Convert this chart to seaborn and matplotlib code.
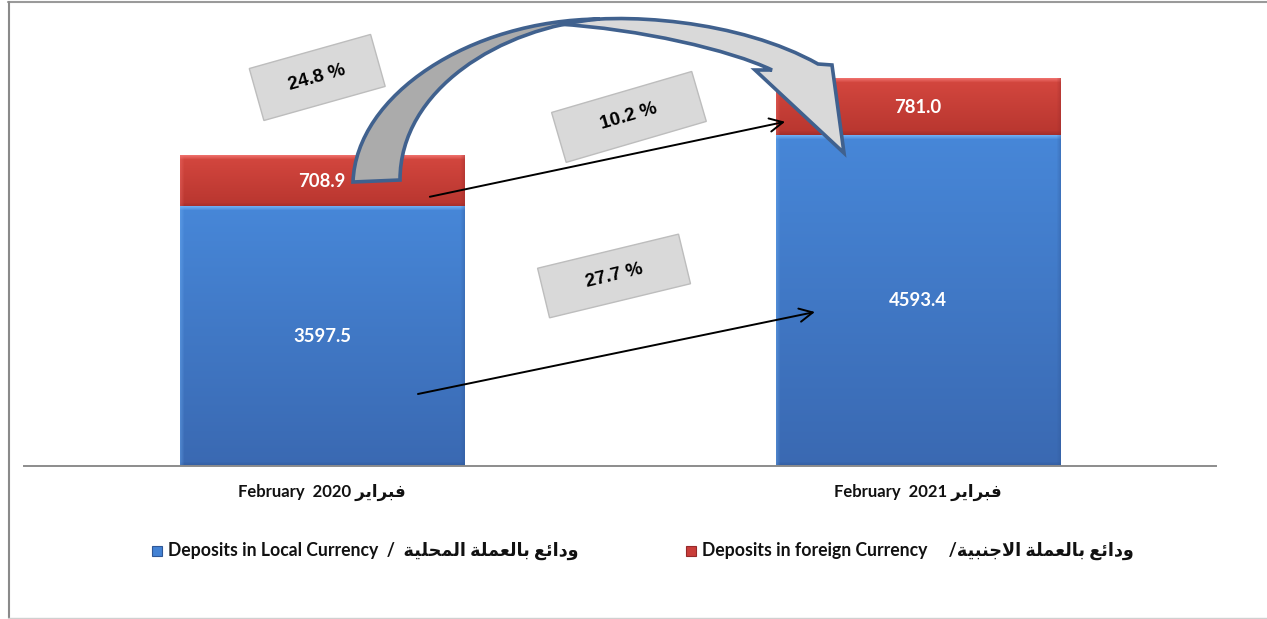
import numpy as np
import pandas as pd
import matplotlib
matplotlib.use("Agg")
import matplotlib.pyplot as plt
import matplotlib.colors as mcolors
from matplotlib.patches import Rectangle, PathPatch
from matplotlib.path import Path
from matplotlib.transforms import Affine2D, ScaledTranslation
from matplotlib.lines import Line2D
import seaborn as sns

# ---- data -------------------------------------------------------------
periods_en = ["February  2020", "February  2021"]
period_ar = "فبراير"
local = [3597.5, 4593.4]      # deposits in local currency
foreign = [708.9, 781.0]      # deposits in foreign currency
legend_local = ("Deposits in Local Currency", "ودائع بالعملة المحلية")
legend_foreign = ("Deposits in foreign Currency", "ودائع بالعملة الاجنبية")

# ---- minimal Arabic contextual shaping (matplotlib has no bidi engine) --
FORMS = {
    "ا": ("\uFE8D", "\uFE8E", None, None),
    "ب": ("\uFE8F", "\uFE90", "\uFE91", "\uFE92"),
    "ة": ("\uFE93", "\uFE94", None, None),
    "ج": ("\uFE9D", "\uFE9E", "\uFE9F", "\uFEA0"),
    "ح": ("\uFEA1", "\uFEA2", "\uFEA3", "\uFEA4"),
    "د": ("\uFEA9", "\uFEAA", None, None),
    "ر": ("\uFEAD", "\uFEAE", None, None),
    "ع": ("\uFEC9", "\uFECA", "\uFECB", "\uFECC"),
    "ف": ("\uFED1", "\uFED2", "\uFED3", "\uFED4"),
    "ل": ("\uFEDD", "\uFEDE", "\uFEDF", "\uFEE0"),
    "م": ("\uFEE1", "\uFEE2", "\uFEE3", "\uFEE4"),
    "ن": ("\uFEE5", "\uFEE6", "\uFEE7", "\uFEE8"),
    "و": ("\uFEED", "\uFEEE", None, None),
    "ي": ("\uFEF1", "\uFEF2", "\uFEF3", "\uFEF4"),
    "ئ": ("\uFE89", "\uFE8A", "\uFE8B", "\uFE8C"),
}
LAM_ALEF = ("\uFEFB", "\uFEFC")


def shape_arabic(text):
    units, i = [], 0
    while i < len(text):
        if text[i] == "ل" and i + 1 < len(text) and text[i + 1] == "ا":
            units.append("LA")
            i += 2
        else:
            units.append(text[i])
            i += 1

    def is_letter(u):
        return u == "LA" or u in FORMS

    def links_forward(u):
        return u != "LA" and u in FORMS and FORMS[u][2] is not None

    out = []
    for k, u in enumerate(units):
        if not is_letter(u):
            out.append(u)
            continue
        prev = units[k - 1] if k > 0 else None
        nxt = units[k + 1] if k + 1 < len(units) else None
        lp = prev is not None and links_forward(prev)
        ln = nxt is not None and is_letter(nxt) and links_forward(u)
        if u == "LA":
            out.append(LAM_ALEF[1] if lp else LAM_ALEF[0])
            continue
        iso, fin, ini, med = FORMS[u]
        out.append(med if (lp and ln) else fin if lp else ini if ln else iso)
    return "".join(reversed(out))


# ---- style --------------------------------------------------------------
sns.set_style("white")
plt.rcParams["font.family"] = ["Lato", "DejaVu Sans"]
FAM = ["Lato", "DejaVu Sans"]

W, H = 1267, 619
BLUE = "#4382D4"
RED = "#C93D39"

fig = plt.figure(figsize=(W / 100, H / 100), dpi=100)
fig.patch.set_facecolor("white")
ax = fig.add_axes([24 / W, (H - 466) / H, 1192 / W, 466 / H])

df = pd.DataFrame({"period": periods_en, "local": local, "foreign": foreign})
df["total"] = df["local"] + df["foreign"]

BAR_W = 0.477
sns.barplot(data=df, x="period", y="total", color=RED, width=BAR_W,
            saturation=1, errorbar=None, ax=ax, zorder=2)
sns.barplot(data=df, x="period", y="local", color=BLUE, width=BAR_W,
            saturation=1, errorbar=None, ax=ax, zorder=2)

YMAX = 6472
ax.set_xlim(-0.5, 1.5)
ax.set_ylim(0, YMAX)
PX_PER_UNIT = 466 / YMAX


def rgb(h):
    return np.array(mcolors.to_rgb(h))


def bevel_image(h, w, hi, top, bottom, low, edge=4):
    t = np.linspace(0, 1, h)[:, None]
    col = rgb(top)[None, :] * (1 - t) + rgb(bottom)[None, :] * t
    img = np.repeat(col[:, None, :], w, axis=1)
    b = max(1, min(edge, h // 2))
    for r in range(b):
        a = 1 - r / b
        img[r] = img[r] * (1 - 0.85 * a) + rgb(hi) * 0.85 * a
        img[h - 1 - r] = img[h - 1 - r] * (1 - 0.6 * a) + rgb(low) * 0.6 * a
    for c in range(b):
        a = (1 - c / b) * 0.35
        img[:, c] = img[:, c] * (1 - a) + rgb(hi) * a
        img[:, w - 1 - c] = img[:, w - 1 - c] * (1 - a) + rgb(low) * a
    return np.clip(img, 0, 1)


# bevelled shading over each visible segment
bars = ax.patches
for i in range(len(df)):
    p = bars[i]
    x0, bw = p.get_x(), p.get_width()
    wpx = int(round(bw * 596))
    lo, hi_v = df["local"][i], df["total"][i]
    hred = max(4, int(round((hi_v - lo) * PX_PER_UNIT)))
    hblue = max(4, int(round(lo * PX_PER_UNIT)))
    ax.imshow(bevel_image(hred, wpx, "#F27572", "#D4473F", "#B8362F", "#96292A"),
              extent=[x0, x0 + bw, lo, hi_v], aspect="auto", zorder=2.5,
              interpolation="bilinear")
    ax.imshow(bevel_image(hblue, wpx, "#74B4F7", "#4787D8", "#3A69B2", "#2F5796"),
              extent=[x0, x0 + bw, 0, lo], aspect="auto", zorder=2.5,
              interpolation="bilinear")
ax.set_xlim(-0.5, 1.5)
ax.set_ylim(0, YMAX)

# value labels inside the segments
for i in range(len(df)):
    ax.text(i, df["local"][i] / 2, f"{df['local'][i]:.1f}", ha="center",
            va="center", color="white", fontsize=13.3, fontweight="bold",
            family=FAM, zorder=4)
    ax.text(i, df["local"][i] + df["foreign"][i] / 2, f"{df['foreign'][i]:.1f}",
            ha="center", va="center", color="white", fontsize=13.3,
            fontweight="bold", family=FAM, zorder=4)

# axes cosmetics
for s in ("top", "right", "left"):
    ax.spines[s].set_visible(False)
ax.spines["bottom"].set_color("#8C8C8C")
ax.spines["bottom"].set_linewidth(1.4)
ax.set_yticks([])
ax.set_xlabel("")
ax.set_ylabel("")
ax.set_facecolor("none")
ax.set_xticks(range(len(df)),
              labels=[f"{p} {shape_arabic(period_ar)}" for p in periods_en])
ax.tick_params(axis="x", length=0, pad=13)
for lab in ax.get_xticklabels():
    lab.set_fontweight("bold")
    lab.set_fontsize(12)
    lab.set_family(FAM)
    lab.set_color("#111111")

# growth rates
g_total = (df["total"][1] / df["total"][0] - 1) * 100
g_foreign = (df["foreign"][1] / df["foreign"][0] - 1) * 100
g_local = (df["local"][1] / df["local"][0] - 1) * 100

# straight arrows between the matching segments
ax.annotate("", xy=(0.777, df["local"][1] + 0.24 * df["foreign"][1]),
            xytext=(0.181, df["local"][0] + 0.2 * df["foreign"][0]),
            arrowprops=dict(arrowstyle="->", color="black", lw=1.4,
                            mutation_scale=24, shrinkA=0, shrinkB=0), zorder=5)
ax.annotate("", xy=(0.827, 2139), xytext=(0.161, 1000),
            arrowprops=dict(arrowstyle="->", color="black", lw=1.4,
                            mutation_scale=24, shrinkA=0, shrinkB=0), zorder=5)

# rotated rate boxes
boxes = [
    (g_total, -0.008, 5396, 126, 54, 15.7),
    (g_foreign, 0.515, 4848, 146, 52, 16.3),
    (g_local, 0.490, 2639, 145, 51, 13.6),
]
for val, bx, by, bwp, bhp, ang in boxes:
    tr = Affine2D().rotate_deg(ang) + ScaledTranslation(bx, by, ax.transData)
    ax.add_patch(Rectangle((-bwp / 2, -bhp / 2), bwp, bhp, transform=tr,
                           facecolor="#D9D9D9", edgecolor="#BDBDBD", lw=1.0,
                           zorder=6, clip_on=False))
    ax.text(bx, by, f"{val:.1f} %", rotation=ang, rotation_mode="anchor",
            ha="center", va="center", fontsize=13.5, fontweight="bold",
            family=["Liberation Sans", "DejaVu Sans"], color="black", zorder=7)

# curved block arrow over the bars (pixel space, origin top-left)
px = Affine2D().scale(1, -1).translate(0, H)
light_verts = [(557, 24), (620, 11), (740, 20), (818, 64),
               (832, 65), (844, 153), (755, 70), (772, 70),
               (730, 50), (640, 29), (557, 24), (557, 24)]
light_codes = [Path.MOVETO, Path.CURVE4, Path.CURVE4, Path.CURVE4,
               Path.LINETO, Path.LINETO, Path.LINETO, Path.LINETO,
               Path.CURVE4, Path.CURVE4, Path.CURVE4, Path.CLOSEPOLY]
dark_verts = [(353, 182), (356, 95), (470, 20), (600, 19),
              (500, 27), (400, 90), (400, 180),
              (353, 182), (353, 182)]
dark_codes = [Path.MOVETO, Path.CURVE4, Path.CURVE4, Path.CURVE4,
              Path.CURVE4, Path.CURVE4, Path.CURVE4,
              Path.LINETO, Path.CLOSEPOLY]
for verts, codes, fc in ((light_verts, light_codes, "#D9D9D9"),
                         (dark_verts, dark_codes, "#ABABAB")):
    ax.add_patch(PathPatch(Path(verts, codes), transform=px, facecolor=fc,
                           edgecolor="#40618E", lw=2.6, joinstyle="miter",
                           zorder=8, clip_on=False))


# legend drawn along the bottom
def fx(x):
    return x / W


def fy(y):
    return 1 - y / H


leg_items = [(152, BLUE, "#2F5796", f"{legend_local[0]}  /  {shape_arabic(legend_local[1])}"),
             (686, RED, "#96292A", f"{legend_foreign[0]}     /{shape_arabic(legend_foreign[1])}")]
for x0, fc, ec, label in leg_items:
    fig.add_artist(Rectangle((fx(x0), fy(556)), 10 / W, 10 / H,
                             transform=fig.transFigure, facecolor=fc,
                             edgecolor=ec, lw=0.8))
    fig.text(fx(x0 + 16), fy(551), label, ha="left", va="center",
             fontsize=12.7, fontweight="bold", family=FAM, color="#111111")

# chart-area frame
fig.add_artist(Line2D([fx(8), 1], [fy(1.5), fy(1.5)], transform=fig.transFigure,
                      color="#9A9A9A", lw=1.5))
fig.add_artist(Line2D([fx(8.5), fx(8.5)], [fy(1.5), fy(617.5)],
                      transform=fig.transFigure, color="#8A8A8A", lw=1.5))
fig.add_artist(Line2D([fx(8), 1], [fy(617.5), fy(617.5)],
                      transform=fig.transFigure, color="#D0D0D0", lw=1.0))

fig.savefig("out.png", dpi=100, facecolor="white")
